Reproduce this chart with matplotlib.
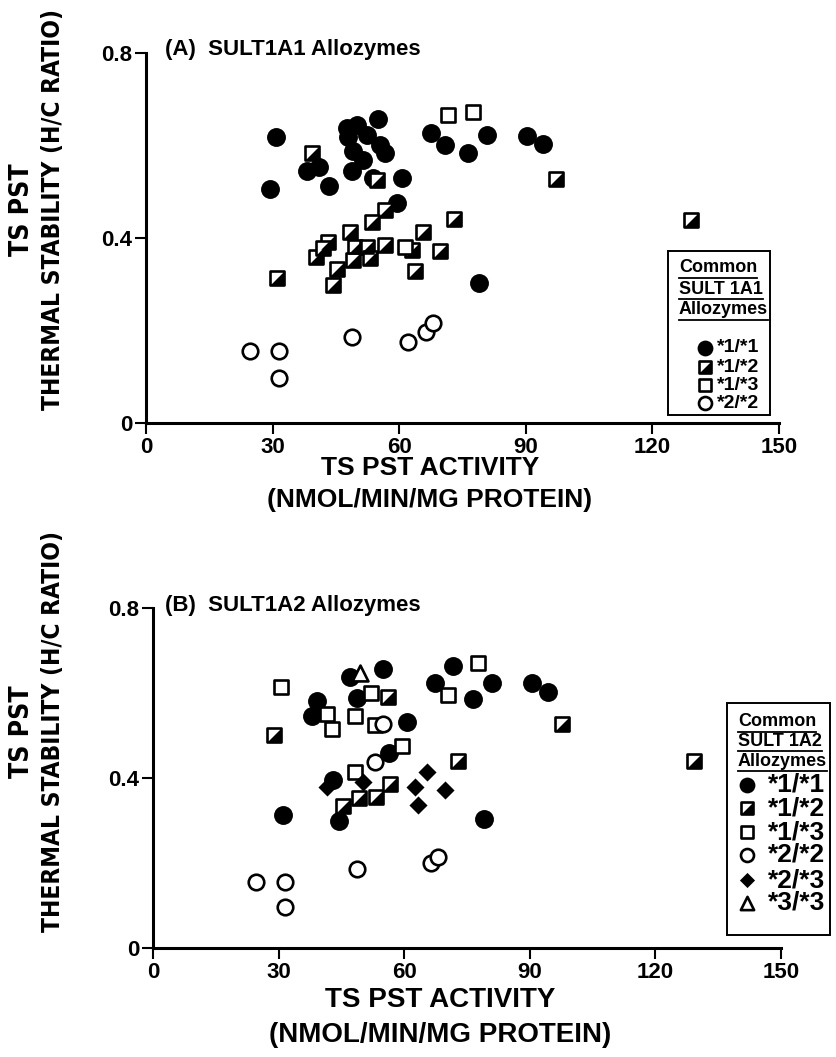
import matplotlib
matplotlib.use('Agg')
import matplotlib.pyplot as plt
from matplotlib import font_manager
from matplotlib.font_manager import FontProperties
from matplotlib.patches import Rectangle

FONT = 'Liberation Sans'
plt.rcParams['font.family'] = FONT
plt.rcParams['font.weight'] = 'bold'

# look for a narrow bold face for the long y label, else plain bold
narrow_file = None
for f in font_manager.fontManager.ttflist:
    wt = f.weight if isinstance(f.weight, int) else (700 if 'bold' in str(f.weight) else 400)
    narrowish = f.stretch in ('condensed', 'semi-condensed', 'extra-condensed') \
        or 'Narrow' in f.name or 'Condensed' in f.name
    if narrowish and wt >= 600 and f.fname.lower().endswith('.ttf'):
        narrow_file = f.fname
        break

W, H = 837, 1057

# ---- panel A data (SULT1A1 genotypes) ----
a11_x = [30.7, 29.4, 38.2, 41.0, 43.4, 47.6, 49.9, 54.9, 47.9, 49.1, 51.5, 48.7, 52.3,
         55.5, 56.6, 53.9, 60.7, 59.4, 67.5, 70.9, 76.2, 80.7, 90.4, 94.1, 78.9]
a11_y = [0.618, 0.506, 0.545, 0.553, 0.513, 0.637, 0.644, 0.657, 0.619, 0.589, 0.569, 0.545, 0.623,
         0.601, 0.583, 0.529, 0.529, 0.475, 0.626, 0.600, 0.584, 0.623, 0.621, 0.603, 0.303]
a12_x = [31.0, 39.4, 54.7, 56.6, 53.5, 48.3, 43.2, 40.4, 42.0, 49.5, 52.3, 56.6, 45.2,
         44.4, 49.1, 53.1, 63.1, 65.7, 69.7, 63.7, 73.0, 97.2, 129.1]
a12_y = [0.313, 0.583, 0.525, 0.461, 0.435, 0.414, 0.392, 0.360, 0.378, 0.381, 0.381, 0.385, 0.334,
         0.298, 0.352, 0.356, 0.374, 0.414, 0.372, 0.329, 0.441, 0.528, 0.439]
a13_x = [71.6, 77.4, 61.3]
a13_y = [0.666, 0.673, 0.381]
a22_x = [24.6, 31.5, 31.5, 48.7, 62.2, 66.4, 67.9]
a22_y = [0.155, 0.155, 0.097, 0.185, 0.175, 0.196, 0.217]

# ---- panel B data (SULT1A2 genotypes) ----
b11_x = [39.0, 37.8, 47.0, 54.8, 48.6, 60.5, 56.4, 43.0, 71.7, 67.3, 76.3, 81.0, 90.4, 94.4,
         31.0, 44.4, 78.9]
b11_y = [0.581, 0.546, 0.638, 0.656, 0.588, 0.531, 0.460, 0.395, 0.664, 0.624, 0.585, 0.624, 0.623, 0.603,
         0.313, 0.298, 0.303]
b12_x = [28.8, 72.9, 97.6, 129.1, 56.1, 45.2, 49.1, 53.1, 56.6]
b12_y = [0.501, 0.440, 0.527, 0.439, 0.590, 0.334, 0.352, 0.356, 0.385]
b13_x = [30.4, 41.4, 42.6, 48.2, 53.0, 59.3, 48.2, 70.5, 77.6, 52.0]
b13_y = [0.615, 0.551, 0.515, 0.546, 0.525, 0.475, 0.415, 0.595, 0.671, 0.600]
b22_x = [24.6, 31.5, 31.5, 48.7, 66.3, 68.1, 54.8, 53.0]
b22_y = [0.155, 0.155, 0.097, 0.185, 0.200, 0.215, 0.527, 0.437]
b23_x = [41.4, 65.3, 62.5, 69.7, 63.3, 50.0]
b23_y = [0.380, 0.415, 0.380, 0.372, 0.336, 0.390]
b33_x = [49.4]
b33_y = [0.646]

x_ticks = [0, 30, 60, 90, 120, 150]
y_ticks = [0, 0.4, 0.8]
y_tick_labels = ['0', '0.4', '0.8']

LW = 1.9
TRI = [(1, 1), (1, -1), (-1, -1), (1, 1)]   # lower-right half of a square


def draw_kind(ax, x, y, kind, scale=1.0, z=3):
    kw = dict(clip_on=False, zorder=z)
    if kind == 'circle':
        ax.scatter(x, y, s=185 * scale, marker='o', c='black', linewidths=0, **kw)
    elif kind == 'half':
        ax.scatter(x, y, s=110 * scale, marker='s', facecolors='white', edgecolors='black', linewidths=LW, **kw)
        ax.scatter(x, y, s=110 * scale, marker=TRI, c='black', linewidths=0, **kw)
    elif kind == 'square':
        ax.scatter(x, y, s=110 * scale, marker='s', facecolors='white', edgecolors='black', linewidths=LW, **kw)
    elif kind == 'ocircle':
        ax.scatter(x, y, s=125 * scale, marker='o', facecolors='white', edgecolors='black', linewidths=LW, **kw)
    elif kind == 'diamond':
        ax.scatter(x, y, s=85 * scale, marker='D', c='black', linewidths=0, **kw)
    elif kind == 'triangle':
        ax.scatter(x, y, s=130 * scale, marker='^', facecolors='white', edgecolors='black', linewidths=LW, **kw)


def style_axes(ax):
    ax.set_xlim(0, 150)
    ax.set_ylim(0, 0.8)
    ax.set_xticks(x_ticks)
    ax.set_xticklabels([str(t) for t in x_ticks])
    ax.set_yticks(y_ticks)
    ax.set_yticklabels(y_tick_labels)
    for s in ['top', 'right']:
        ax.spines[s].set_visible(False)
    for s in ['left', 'bottom']:
        ax.spines[s].set_linewidth(2.2)
    ax.tick_params(direction='out', length=8, width=1.5, labelsize=16, pad=2)
    for lab in ax.get_xticklabels() + ax.get_yticklabels():
        lab.set_fontweight('bold')


def fig_box(px_left, px_top, px_right, px_bottom):
    return [px_left / W, 1 - px_bottom / H, (px_right - px_left) / W, (px_bottom - px_top) / H]


fig = plt.figure(figsize=(W / 100, H / 100), dpi=100)
axA = fig.add_axes(fig_box(146, 53, 779, 423))
axB = fig.add_axes(fig_box(153.5, 608, 781, 948))

draw_kind(axA, a11_x, a11_y, 'circle')
draw_kind(axA, a12_x, a12_y, 'half')
draw_kind(axA, a13_x, a13_y, 'square')
draw_kind(axA, a22_x, a22_y, 'ocircle')

draw_kind(axB, b11_x, b11_y, 'circle')
draw_kind(axB, b13_x, b13_y, 'square')
draw_kind(axB, b12_x, b12_y, 'half')
draw_kind(axB, b22_x, b22_y, 'ocircle')
draw_kind(axB, b23_x, b23_y, 'diamond')
draw_kind(axB, b33_x, b33_y, 'triangle')

style_axes(axA)
style_axes(axB)

# overlay in pixel coordinates for labels and the boxed keys
ov = fig.add_axes([0, 0, 1, 1], zorder=10)
ov.set_xlim(0, W)
ov.set_ylim(H, 0)
ov.axis('off')
ov.patch.set_alpha(0)

ov.text(165, 49, '(A)  SULT1A1 Allozymes', fontsize=16, fontweight='bold', va='center', ha='left')
ov.text(165, 606, '(B)  SULT1A2 Allozymes', fontsize=16, fontweight='bold', va='center', ha='left')


def label_props(size):
    if narrow_file:
        return dict(fontproperties=FontProperties(fname=narrow_file, size=size))
    return dict(fontsize=size, fontweight='bold')


ylabels = []
for yc in [210, 732]:
    ov.text(22, yc, 'TS PST', rotation=90, ha='center', va='center', **label_props(19))
    ylabels.append(ov.text(53, yc, 'THERMAL STABILITY (H/C RATIO)', rotation=90,
                           ha='center', va='center', **label_props(20)))

ov.text(430, 468, 'TS PST ACTIVITY', fontsize=19, fontweight='bold', ha='center', va='center')
ov.text(430, 500, '(NMOL/MIN/MG PROTEIN)', fontsize=19, fontweight='bold', ha='center', va='center')
ov.text(440, 1000, 'TS PST ACTIVITY', fontsize=20, fontweight='bold', ha='center', va='center')
ov.text(440, 1035, '(NMOL/MIN/MG PROTEIN)', fontsize=20, fontweight='bold', ha='center', va='center')


def key_box(x0, y0, x1, y1, header, hx, hy, entries, mx, tx, ty, tsize, mscale):
    ov.add_patch(Rectangle((x0, y0), x1 - x0, y1 - y0, facecolor='white', edgecolor='black',
                           linewidth=1.4, zorder=1))
    heads = []
    for line, yy in zip(header, hy):
        heads.append(ov.text(hx, yy, line, fontsize=13, fontweight='bold', ha='left', va='center', zorder=3))
    for (kind, label), yy in zip(entries, ty):
        draw_kind(ov, [mx], [yy], kind, scale=mscale, z=3)
        ov.text(tx, yy, label, fontsize=tsize, fontweight='bold', ha='left', va='center', zorder=3)
    return heads


headsA = key_box(668, 251, 770, 415, ['Common', 'SULT 1A1', 'Allozymes'], 679, [268, 289, 310],
                 [('circle', '*1/*1'), ('half', '*1/*2'), ('square', '*1/*3'), ('ocircle', '*2/*2')],
                 705, 717, [348, 367, 385, 403], 14, 0.7)
headsB = key_box(727, 703, 830, 935, ['Common', 'SULT 1A2', 'Allozymes'], 738, [722, 741, 761],
                 [('circle', '*1/*1'), ('half', '*1/*2'), ('square', '*1/*3'), ('ocircle', '*2/*2'),
                  ('diamond', '*2/*3'), ('triangle', '*3/*3')],
                 747, 768, [785, 808, 832, 855, 880, 903], 19, 0.7)

fig.canvas.draw()
r = fig.canvas.get_renderer()

# shrink the long y labels to the length they have in the figure
for t in ylabels:
    h = t.get_window_extent(r).height
    t.set_fontsize(t.get_fontsize() * 400 / h)

# underline the key headers
inv = ov.transData.inverted()
for t in headsA + headsB:
    bb = t.get_window_extent(r)
    (xa, ya), (xb, yb) = inv.transform([(bb.x0, bb.y0), (bb.x1, bb.y1)])
    ov.plot([xa, xb], [ya + 1, ya + 1], color='black', lw=1.3, zorder=3)

fig.savefig('out.png', dpi=100)
